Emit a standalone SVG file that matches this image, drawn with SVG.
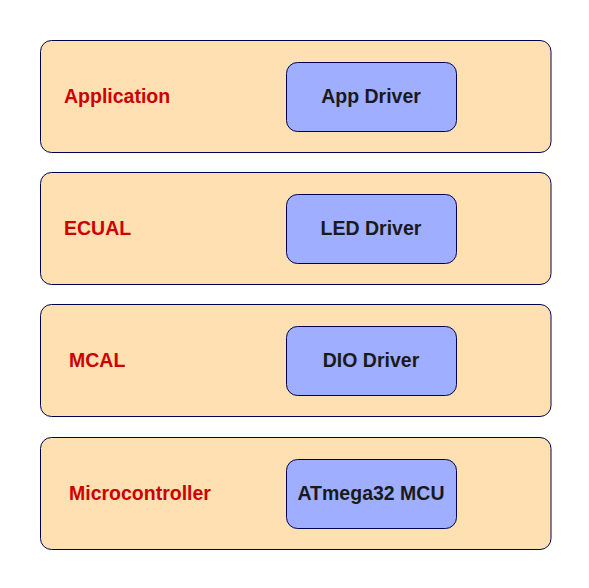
<svg xmlns="http://www.w3.org/2000/svg" width="589" height="588" viewBox="0 0 589 588">
<style>
.layer{fill:#ffe0b3;stroke:#000050;stroke-width:1}
.mod{fill:#a0aeff;stroke:#000050;stroke-width:1}
.lt{font-family:"Liberation Sans",Arial,sans-serif;font-weight:bold;font-size:19.5px;fill:#cc0000}
.mt{font-family:"Liberation Sans",Arial,sans-serif;font-weight:bold;font-size:19.5px;fill:#1a1a1a;text-anchor:middle}
</style>
<rect width="589" height="588" fill="#ffffff"/>
<g id="application">
<rect class="layer" x="40.5" y="40.5" width="510.5" height="112" rx="11"/>
<text class="lt" x="64" y="103">Application</text>
</g>
<g id="app-driver">
<rect class="mod" x="286.5" y="62.5" width="170" height="69" rx="11"/>
<text class="mt" x="371" y="103">App Driver</text>
</g>
<g id="ecual">
<rect class="layer" x="40.5" y="172.5" width="510.5" height="112" rx="11"/>
<text class="lt" x="64" y="235">ECUAL</text>
</g>
<g id="led-driver">
<rect class="mod" x="286.5" y="194.5" width="170" height="69" rx="11"/>
<text class="mt" x="371" y="235">LED Driver</text>
</g>
<g id="mcal">
<rect class="layer" x="40.5" y="304.5" width="510.5" height="112" rx="11"/>
<text class="lt" x="69" y="367">MCAL</text>
</g>
<g id="dio-driver">
<rect class="mod" x="286.5" y="326.5" width="170" height="69" rx="11"/>
<text class="mt" x="371" y="367">DIO Driver</text>
</g>
<g id="microcontroller">
<rect class="layer" x="40.5" y="437.5" width="510.5" height="112" rx="11"/>
<text class="lt" x="69" y="500">Microcontroller</text>
</g>
<g id="mcu">
<rect class="mod" x="286.5" y="459.5" width="170" height="69" rx="11"/>
<text class="mt" x="371" y="500">ATmega32 MCU</text>
</g>
<g id="connectors"></g>
</svg>
